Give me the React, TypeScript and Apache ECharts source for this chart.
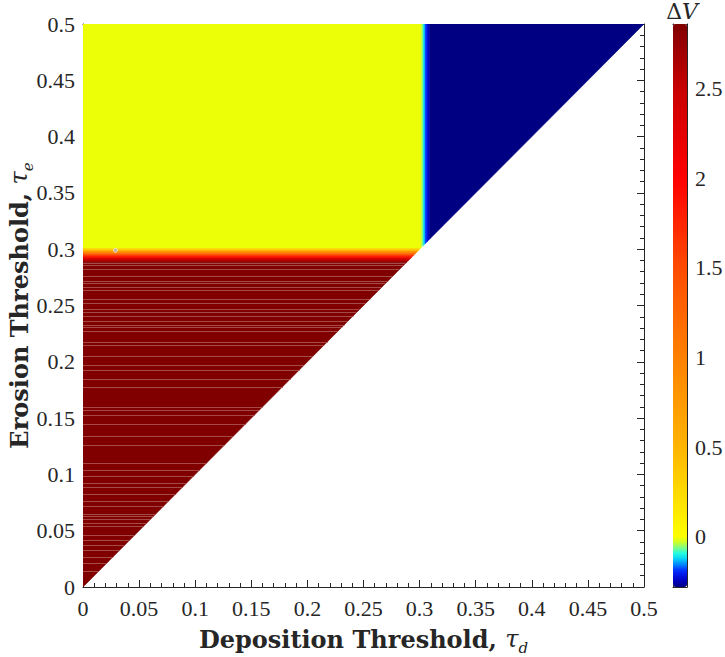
import React, { useEffect, useRef } from "react";
import * as echarts from "echarts";

// ---------------- data ----------------
// Regions of the (tau_d, tau_e) plane with their Delta V values (cells are clipped to tau_e >= tau_d)
const cellTauD0 = [0, 0.302, 0.3035, 0.305, 0.307, 0.309, 0, 0, 0, 0, 0, 0, 0];
const cellTauD1 = [0.302, 0.3035, 0.305, 0.307, 0.309, 0.5, 0.3, 0.3, 0.3, 0.3, 0.3, 0.3, 0.3];
const cellTauE0 = [0.3005, 0.3005, 0.3005, 0.3005, 0.3005, 0.3005, 0.2985, 0.2965, 0.2945, 0.2925, 0.2905, 0.2885, 0];
const cellTauE1 = [0.5, 0.5, 0.5, 0.5, 0.5, 0.5, 0.3005, 0.2985, 0.2965, 0.2945, 0.2925, 0.2905, 0.2885];
const cellDeltaV = [-0.015, -0.06, -0.12, -0.19, -0.24, -0.28, 0.35, 0.8, 1.3, 1.8, 2.3, 2.65, 2.86];

// thin numerical-artifact stripes in the red region (tau_e values)
const stripeTauE = [
  0.288, 0.286, 0.282, 0.276, 0.272, 0.270, 0.266, 0.264, 0.256, 0.252, 0.247, 0.244,
  0.241, 0.236, 0.233, 0.231, 0.227, 0.218, 0.215, 0.205, 0.197, 0.193, 0.185, 0.178,
  0.160, 0.157, 0.153, 0.145, 0.134, 0.126, 0.110, 0.104, 0.099, 0.092, 0.089, 0.083,
  0.076, 0.072, 0.065, 0.063, 0.060, 0.057, 0.054, 0.046, 0.042, 0.037, 0.033, 0.027,
  0.021, 0.014,
];

const markerPoint = [[0.029, 0.299]];

const colorbarTicks = [0, 0.5, 1, 1.5, 2, 2.5];
const dvMin = -0.28;
const dvMax = 2.86;

// colormap stops
const cmapValues = [-0.28, -0.24, -0.19, -0.13, -0.09, -0.05, -0.015, 0, 0.5, 1.0, 1.5, 2.0, 2.5, 2.86];
const cmapColors: number[][] = [
  [0, 0, 130], [0, 0, 200], [0, 40, 255], [0, 200, 255], [40, 255, 220], [160, 255, 100],
  [240, 255, 0], [255, 255, 0], [255, 180, 0], [255, 128, 0], [255, 75, 0], [255, 0, 0],
  [200, 0, 0], [128, 0, 0],
];

function buildColorTable(n: number): string[] {
  const out: string[] = [];
  for (let i = 0; i < n; i++) {
    const v = dvMin + ((dvMax - dvMin) * i) / (n - 1);
    let k = 0;
    while (k < cmapValues.length - 2 && v > cmapValues[k + 1]) k++;
    const t = Math.max(0, Math.min(1, (v - cmapValues[k]) / (cmapValues[k + 1] - cmapValues[k])));
    const a = cmapColors[k], b = cmapColors[k + 1];
    const c = a.map((x, j) => Math.round(x + (b[j] - x) * t));
    out.push(`rgb(${c[0]},${c[1]},${c[2]})`);
  }
  return out;
}

function clipUpper(pts: number[][]): number[][] {
  const out: number[][] = [];
  const f = (p: number[]) => p[1] - p[0];
  for (let i = 0; i < pts.length; i++) {
    const p = pts[i], q = pts[(i + 1) % pts.length];
    const fp = f(p), fq = f(q);
    if (fp >= 0) out.push(p);
    if ((fp >= 0) !== (fq >= 0)) {
      const t = fp / (fp - fq);
      out.push([p[0] + (q[0] - p[0]) * t, p[1] + (q[1] - p[1]) * t]);
    }
  }
  return out;
}

const AX = "#262626";
const labelStyle = { fontFamily: "Liberation Serif", fontSize: 22, color: AX };
const fmt = (v: number) => String(parseFloat(Number(v).toFixed(3)));

export default function App() {
  const ref = useRef<HTMLDivElement>(null);
  useEffect(() => {
    if (!ref.current) return;
    const chart = echarts.init(ref.current, undefined, { renderer: "svg" });
    const cells = cellDeltaV.map((v, i) => [cellTauD0[i], cellTauD1[i], cellTauE0[i], cellTauE1[i], v]);

    const mainAxisCommon = {
      type: "value" as const,
      min: 0,
      max: 0.5,
      interval: 0.05,
      splitLine: { show: false },
      axisLine: { show: true, onZero: false, lineStyle: { color: AX, width: 1 } },
      axisTick: { show: true, inside: true, length: 7, lineStyle: { color: AX } },
      minorTick: { show: true, splitNumber: 5, length: 4, lineStyle: { color: AX } },
    };
    const nameRich = {
      b: { fontFamily: "DejaVu Serif", fontWeight: "bold", fontSize: 24, color: AX, lineHeight: 32, verticalAlign: "middle" },
      t: { fontFamily: "DejaVu Serif", fontStyle: "italic", fontSize: 24, color: AX, lineHeight: 32, verticalAlign: "middle" },
      s: { fontFamily: "DejaVu Serif", fontStyle: "italic", fontSize: 15, color: AX, lineHeight: 32, verticalAlign: "bottom" },
    };

    chart.setOption({
      animation: false,
      backgroundColor: "#ffffff",
      grid: [
        { left: 83, top: 24, width: 561, height: 563, outerBoundsMode: "none", containLabel: false },
        { left: 673, top: 24, width: 14, height: 563, outerBoundsMode: "none", containLabel: false },
      ],
      xAxis: [
        {
          ...mainAxisCommon,
          gridIndex: 0,
          position: "bottom",
          axisLabel: { ...labelStyle, formatter: fmt, margin: 10 },
          name: "{b|Deposition Threshold, }{t|τ}{s|d}",
          nameLocation: "middle",
          nameGap: 36,
          nameMoveOverlap: false,
          nameTextStyle: { rich: nameRich },
        },
        { ...mainAxisCommon, gridIndex: 0, position: "top", axisLabel: { show: false } },
        {
          type: "value", gridIndex: 1, min: 0, max: 1, position: "bottom",
          axisLine: { show: true, onZero: false, lineStyle: { color: AX } },
          axisTick: { show: false }, axisLabel: { show: false }, splitLine: { show: false },
        },
        {
          type: "value", gridIndex: 1, min: 0, max: 1, position: "top",
          axisLine: { show: true, onZero: false, lineStyle: { color: AX } },
          axisTick: { show: false }, axisLabel: { show: false }, splitLine: { show: false },
        },
      ],
      yAxis: [
        {
          ...mainAxisCommon,
          gridIndex: 0,
          position: "left",
          axisLabel: { ...labelStyle, formatter: fmt, margin: 8 },
          name: "{b|Erosion Threshold, }{t|τ}{s|e}",
          nameLocation: "middle",
          nameGap: 48,
          nameMoveOverlap: false,
          nameTextStyle: { rich: nameRich },
        },
        { ...mainAxisCommon, gridIndex: 0, position: "right", axisLabel: { show: false } },
        {
          type: "value", gridIndex: 1, min: dvMin, max: dvMax, position: "right",
          splitLine: { show: false },
          axisLine: { show: true, onZero: false, lineStyle: { color: AX } },
          axisTick: { show: true, inside: true, length: 6, customValues: colorbarTicks, lineStyle: { color: AX } },
          axisLabel: { ...labelStyle, formatter: fmt, margin: 8, customValues: colorbarTicks },
          name: "{d|Δ}{v|V}",
          nameLocation: "end",
          nameGap: 2,
          nameTextStyle: {
            align: "center",
            padding: [0, 10, 0, 0],
            rich: {
              d: { fontFamily: "DejaVu Serif", fontSize: 22, color: AX },
              v: { fontFamily: "DejaVu Serif", fontStyle: "italic", fontSize: 22, color: AX },
            },
          },
        },
        {
          type: "value", gridIndex: 1, min: dvMin, max: dvMax, position: "left",
          splitLine: { show: false },
          axisLine: { show: true, onZero: false, lineStyle: { color: AX } },
          axisTick: { show: false }, axisLabel: { show: false },
        },
      ],
      visualMap: {
        type: "continuous",
        min: dvMin,
        max: dvMax,
        dimension: 4,
        seriesIndex: 0,
        calculable: false,
        show: true,
        orient: "vertical",
        left: 673,
        top: 24,
        padding: 0,
        itemWidth: 14,
        itemHeight: 563,
        text: ["", ""],
        showLabel: false,
        inRange: { color: buildColorTable(200) },
      },
      series: [
        {
          type: "custom",
          xAxisIndex: 0,
          yAxisIndex: 0,
          clip: true,
          encode: { x: [0, 1], y: [2, 3] },
          data: cells,
          renderItem: (params: any, api: any) => {
            const x0 = api.value(0), x1 = api.value(1), y0 = api.value(2), y1 = api.value(3);
            const poly = clipUpper([[x0, y0], [x1, y0], [x1, y1], [x0, y1]]);
            if (poly.length < 3) return null;
            const color = api.visual("color");
            return {
              type: "polygon",
              shape: { points: poly.map((p) => api.coord(p)) },
              style: { fill: color, stroke: color, lineWidth: 0.6 },
            };
          },
        },
        {
          type: "custom",
          xAxisIndex: 0,
          yAxisIndex: 0,
          clip: true,
          encode: { x: 0, y: 1 },
          data: stripeTauE.map((t) => [0, t]),
          renderItem: (params: any, api: any) => {
            const t = api.value(1);
            const a = api.coord([0, t]);
            const b = api.coord([t, t]);
            const y = Math.round(a[1]) + 0.5;
            return {
              type: "line",
              shape: { x1: a[0], y1: y, x2: b[0], y2: y },
              style: { stroke: "#a54848", lineWidth: 1 },
            };
          },
        },
        {
          type: "scatter",
          xAxisIndex: 0,
          yAxisIndex: 0,
          data: markerPoint,
          symbolSize: 4,
          itemStyle: { color: "#b0b0c0", borderColor: "#ffffff", borderWidth: 0.8 },
        },
      ],
    });
    return () => chart.dispose();
  }, []);
  return <div ref={ref} style={{ position: "fixed", left: 0, top: 0, width: 725, height: 657 }} />;
}
